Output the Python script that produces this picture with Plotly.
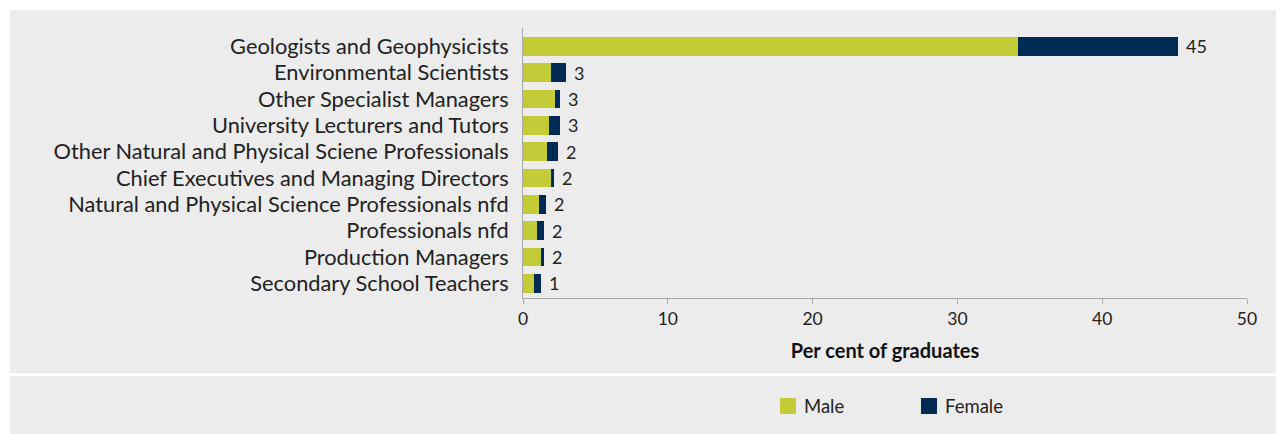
import plotly.graph_objects as go

categories = [
    "Geologists and Geophysicists",
    "Environmental Scientists",
    "Other Specialist Managers",
    "University Lecturers and Tutors",
    "Other Natural and Physical Sciene Professionals",
    "Chief Executives and Managing Directors",
    "Natural and Physical Science Professionals nfd",
    "Professionals nfd",
    "Production Managers",
    "Secondary School Teachers",
]
male = [34.2, 1.93, 2.21, 1.80, 1.66, 1.93, 1.10, 0.97, 1.24, 0.76]
female = [11.0, 1.04, 0.35, 0.76, 0.76, 0.21, 0.49, 0.48, 0.21, 0.48]
total_labels = ["45", "3", "3", "3", "2", "2", "2", "2", "2", "1"]
x_ticks = [0, 10, 20, 30, 40, 50]
series_names = ["Male", "Female"]
series_colors = ["#c3cc37", "#002b54"]

# page has an 8px body margin; figure is shrunk to fit the window
OFF = 8
W, H = 1284 - OFF, 434 - OFF
L, R, T, B = 523, 1247, 28, 298  # plot area in page pixels
pw, ph = R - L, B - T

def px(x):
    return (x - L) / pw

def py(y):
    return (B - y) / ph

GRAY = "#ececec"
FONT = "Lato, 'Open Sans', sans-serif"
TXT = "#222222"

fig = go.Figure()
for name, vals, col in zip(series_names, [male, female], series_colors):
    fig.add_trace(go.Bar(
        y=categories, x=vals, name=name, orientation="h",
        marker=dict(color=col, line=dict(width=0)),
        hoverinfo="x+y", showlegend=False,
    ))

totals = [m + f for m, f in zip(male, female)]
annotations = []
for cat, tot, lab in zip(categories, totals, total_labels):
    annotations.append(dict(
        x=tot, y=cat, xref="x", yref="y", text=lab, showarrow=False,
        xanchor="left", yanchor="middle", xshift=6,
        font=dict(size=18, color=TXT, family=FONT),
    ))

# legend drawn as shapes + text
shapes = [
    dict(type="rect", xref="paper", yref="paper", layer="below",
         x0=px(10), x1=px(1284), y0=py(373), y1=py(10),
         fillcolor=GRAY, line=dict(width=0)),
    dict(type="rect", xref="paper", yref="paper", layer="below",
         x0=px(10), x1=px(1284), y0=py(434), y1=py(376),
         fillcolor=GRAY, line=dict(width=0)),
]
leg_x = [780, 921]
for name, col, lx in zip(series_names, series_colors, leg_x):
    shapes.append(dict(type="rect", xref="paper", yref="paper",
                       x0=px(lx), x1=px(lx + 16), y0=py(414), y1=py(398),
                       fillcolor=col, line=dict(width=0)))
    annotations.append(dict(
        x=px(lx + 22), y=py(406), xref="paper", yref="paper", text=name,
        showarrow=False, xanchor="left", yanchor="middle",
        font=dict(size=18.5, color=TXT, family=FONT),
    ))

fig.update_layout(
    width=W, height=H,
    margin=dict(l=L - OFF, r=W - (R - OFF), t=T - OFF, b=H - (B - OFF), autoexpand=False),
    barmode="stack", bargap=0.29,
    paper_bgcolor="white", plot_bgcolor=GRAY,
    font=dict(family=FONT, color=TXT),
    shapes=shapes, annotations=annotations,
    showlegend=False,
    xaxis=dict(
        range=[0, 50], tickvals=x_ticks, showgrid=False, zeroline=False,
        showline=True, linecolor="#aaaaaa", linewidth=1,
        ticks="outside", ticklen=5, tickcolor="#aaaaaa",
        tickfont=dict(size=17.5, color=TXT),
        title=dict(text="<b>Per cent of graduates</b>", font=dict(size=20, color="#111111"), standoff=15),
        fixedrange=True,
    ),
    yaxis=dict(
        type="category", categoryorder="array", categoryarray=categories,
        range=[9.56, -0.695], showgrid=False, zeroline=False,
        showline=True, linecolor="#aaaaaa", linewidth=1, ticks="",
        tickfont=dict(size=21.8, color=TXT), ticklabelstandoff=9,
        fixedrange=True,
    ),
)

fig.write_html("out.html")
